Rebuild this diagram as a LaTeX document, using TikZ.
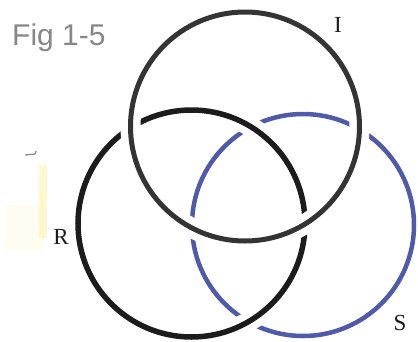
\documentclass[tikz,border=0pt]{standalone}
\usepackage{fontspec}
\setmainfont{Liberation Serif}
\newfontfamily\handfont{Liberation Sans}
\definecolor{ringIcol}{RGB}{52,52,52}
\definecolor{ringRcol}{RGB}{28,28,28}
\definecolor{ringScol}{RGB}{80,90,170}
\definecolor{handcol}{RGB}{135,135,135}
\definecolor{smearcol}{RGB}{255,240,150}
\begin{document}
\begin{tikzpicture}[x=1pt,y=-1pt,
  halo/.style={draw=white,line width=20pt},
  ringI/.style={draw=ringIcol,line width=5pt},
  ringR/.style={draw=ringRcol,line width=5.5pt},
  ringS/.style={draw=ringScol,line width=4.5pt},
  lab/.style={font=\fontsize{23}{23}\selectfont,inner sep=0pt,text=ringRcol},
  hand/.style={font=\handfont\fontsize{30}{30}\selectfont,inner sep=0pt,text=handcol}]
\fill[white] (0,0) rectangle (418,341);
\useasboundingbox (0,0) rectangle (418,341);
% faint yellow smear
\fill[smearcol,opacity=0.12] (4,205) rectangle (44,250);
\fill[smearcol,opacity=0.45] (39,165) rectangle (47,238);
% small mark
\draw[handcol,line width=1.2pt] (25,155) -- (35,154) -- (36,151);
% centres
\coordinate (cI) at (245,126.5);
\coordinate (cR) at (191.5,223.5);
\coordinate (cS) at (303,225);
% S (bottom layer)
\draw[ringS] (cS) circle[radius=111];
% R over S
\draw[halo] (cR) circle[radius=113.5];
\draw[ringR] (cR) circle[radius=113.5];
% I over everything
\draw[halo] (cI) circle[radius=114.5];
\draw[ringI] (cI) circle[radius=114.5];
% labels
\node[lab] (lI) at (338,25) {I};
\node[lab] (lR) at (61,237) {R};
\node[lab] (lS) at (400,323) {S};
\node[hand,anchor=base west] (fig) at (12,45) {Fig 1-5};
\end{tikzpicture}
\end{document}
